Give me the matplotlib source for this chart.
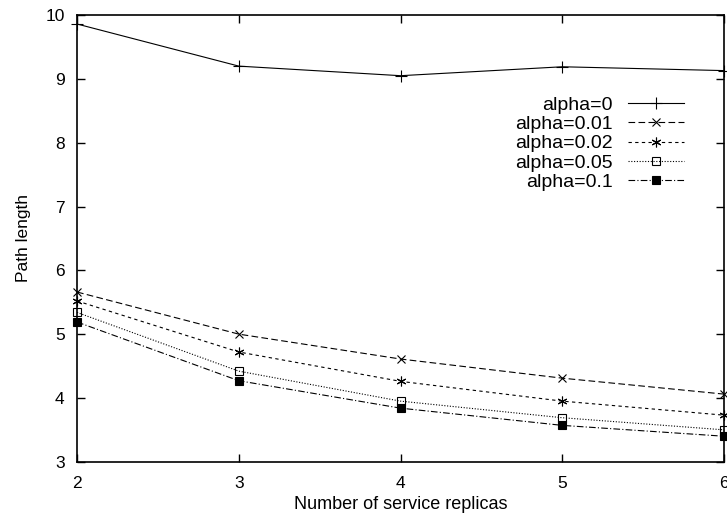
import matplotlib
matplotlib.use("Agg")
import matplotlib.pyplot as plt

# Values
replicas = [2, 3, 4, 5, 6]
labels = ["alpha=0", "alpha=0.01", "alpha=0.02", "alpha=0.05", "alpha=0.1"]
alpha_0 = [9.86, 9.20, 9.05, 9.19, 9.13]
alpha_001 = [5.66, 5.00, 4.61, 4.31, 4.06]
alpha_002 = [5.52, 4.72, 4.26, 3.95, 3.73]
alpha_005 = [5.34, 4.42, 3.95, 3.69, 3.50]
alpha_01 = [5.19, 4.27, 3.84, 3.57, 3.40]
x_ticks = [2, 3, 4, 5, 6]
y_ticks = [3, 4, 5, 6, 7, 8, 9, 10]

plt.rcParams["font.family"] = ["Liberation Sans", "DejaVu Sans"]
plt.rcParams["font.size"] = 12

fig = plt.figure(figsize=(7.27, 5.2), dpi=100)
ax = fig.add_axes([0.106, 0.112, 0.89, 0.859])

series = [alpha_0, alpha_001, alpha_002, alpha_005, alpha_01]
styles = [
    dict(linestyle="-", marker="+", ms=8, mfc="none"),
    dict(linestyle=(0, (6, 3)), marker="x", ms=6, mfc="none"),
    dict(linestyle=(0, (3, 3)), marker=(6, 2, 0), ms=7, mfc="none"),
    dict(linestyle=(0, (1, 1.5)), marker="s", ms=6, mfc="none"),
    dict(linestyle=(0, (6, 2, 1, 2)), marker="s", ms=6, mfc="black"),
]
for vals, lab, st in zip(series, labels, styles):
    ax.plot(replicas, vals, color="black", lw=0.8, mew=0.8, label=lab,
            clip_on=False, **st)

ax.set_xlim(2, 6)
ax.set_ylim(3, 10)
ax.set_xticks(x_ticks)
ax.set_yticks(y_ticks)
ax.tick_params(direction="in", top=True, right=True, length=6, width=1,
               labelsize=12.5)
ax.tick_params(axis="y", pad=9)
ax.tick_params(axis="x", pad=10)
for s in ax.spines.values():
    s.set_linewidth(1.2)
ax.set_xlabel("Number of service replicas", fontsize=13, labelpad=4)
ax.set_ylabel("Path length", fontsize=12.5, labelpad=10)

ax.legend(loc="upper right", bbox_to_anchor=(684 / 727, 1 - 96 / 520),
          bbox_transform=fig.transFigure, frameon=False, borderpad=0,
          borderaxespad=0, markerfirst=False, handlelength=2.9,
          labelspacing=0.09, handletextpad=0.75, fontsize=14)

fig.savefig("out.png", dpi=100)
